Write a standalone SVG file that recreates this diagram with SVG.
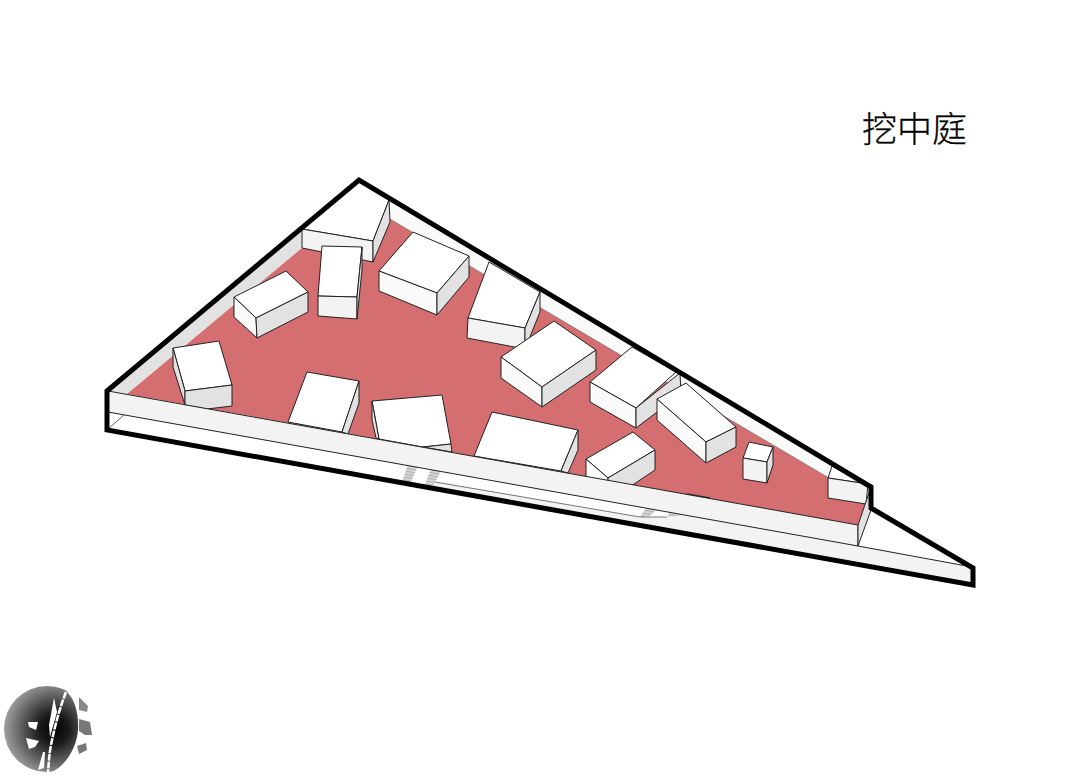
<svg xmlns="http://www.w3.org/2000/svg" width="1080" height="779" viewBox="0 0 1080 779">
<style>
.l{stroke:#222;stroke-width:1;stroke-linejoin:round}
.t{fill:#fff}.a{fill:#f3f3f3}.b{fill:#e2e2e2}.c{fill:#fafafa}
</style>
<defs>
<pattern id="h" width="4" height="3" patternUnits="userSpaceOnUse" patternTransform="rotate(10)"><rect width="4" height="3" fill="#ddd"/><rect width="4" height="1.3" fill="#b0b0b0"/></pattern>
<radialGradient id="g" gradientUnits="userSpaceOnUse" cx="54" cy="729" r="52"><stop offset="0" stop-color="#000"/><stop offset=".3" stop-color="#1c1c1c"/><stop offset="1" stop-color="#a8a8a8"/></radialGradient>
</defs>
<rect width="1080" height="779" fill="#fff"/>
<g id="base">
<polygon points="107,412 858,546 973,567 973,585 107,430" class="a"/>
<polygon points="107,412 683,515 667,517 640,517 440,482 425,487 107,430" fill="#fff"/>
<polygon points="408,464 418,466 410,484 402,482" fill="url(#h)"/>
<polygon points="431,469 441,471 433,486 425,484" fill="url(#h)"/>
<polygon points="646,508 656,510 650,516 640,517" fill="url(#h)"/>
<polygon points="670,512 684,515 667,517" fill="url(#h)"/>
<path d="M435,482L640,517L667,517" fill="none" stroke="#555" stroke-width=".8"/>
<path d="M107,430L125,414" fill="none" stroke="#333" stroke-width=".8"/>
<polygon points="107,391 302,229 302,248 127,394" class="b"/>
<polygon points="390,202 832,466 829,478 390,219" class="c"/>
<polygon points="127,394 302,248 373,262 390,219 829,478 828,498 867,504 858,525" fill="#d46e70"/>
<path d="M390,219L829,478" fill="none" stroke="#666" stroke-width=".6"/>
<path d="M687,494L710,498" stroke="#333" stroke-width="1.5"/>
</g>
<g id="courtyard-buildings" class="l">
<g id="b1"><polygon class="t" points="359,180 302,229 373,241 389,200"/><polygon class="a" points="302,229 373,241 373,262 302,248"/><polygon class="b" points="373,241 389,200 390,222 373,262"/></g>
<g id="b2"><polygon class="t" points="322,246 362,247 357,297 318,296"/><polygon class="a" points="318,296 357,297 357,319 318,316"/><polygon class="b" points="362,247 362,270 357,319 357,297"/></g>
<g id="b3"><polygon class="t" points="286,271 308,292 256,318 234,297"/><polygon class="c" points="234,297 256,318 257,338 234,317"/><polygon class="b" points="256,318 308,292 308,312 257,338"/></g>
<g id="b4"><polygon class="t" points="173,348 219,341 232,385 185,391"/><polygon class="b" points="173,348 185,391 185,405 173,367"/><polygon class="b" points="185,391 232,385 232,406 207,409 185,405"/></g>
<g id="b5"><polygon class="t" points="307,372 359,381 342,432 288,422"/><polygon class="b" points="359,381 359,403 348,434 342,432"/></g>
<g id="b6"><polygon class="t" points="372,401 442,395 451,444 423,447 379,439"/><polygon class="b" points="372,401 379,439 376,438 372,420"/><polygon class="b" points="423,447 451,444 452,452"/></g>
<g id="b7"><polygon class="t" points="492,412 578,430 561,471 474,456"/><polygon class="b" points="578,430 578,450 568,473 561,471"/></g>
<g id="b8"><polygon class="t" points="413,232 469,256 437,293 379,271"/><polygon class="c" points="379,271 437,293 437,315 379,291"/><polygon class="b" points="437,293 469,256 469,277 437,315"/></g>
<g id="b9"><polygon class="t" points="489,262 540,292 525,328 468,318"/><polygon class="a" points="468,318 525,328 525,349 467,338"/><polygon class="b" points="525,328 540,292 540,312 525,349"/></g>
<g id="b10"><polygon class="t" points="554,321 596,350 542,387 501,357"/><polygon class="c" points="501,357 542,387 542,407 501,378"/><polygon class="b" points="542,387 596,350 596,370 542,407"/></g>
<g id="b11"><polygon class="t" points="632,347 676,372 636,408 590,382"/><polygon class="c" points="590,382 636,408 636,428 590,402"/><polygon class="b" points="636,408 680,373 681,394 636,428"/></g>
<g id="b12"><polygon class="t" points="686,383 736,427 706,442 657,399"/><polygon class="c" points="657,399 706,442 706,463 657,420"/><polygon class="b" points="706,442 736,427 736,447 706,463"/></g>
<g id="b13"><polygon class="t" points="633,432 655,450 608,478 586,459"/><polygon class="c" points="586,459 608,478 608,490 586,485"/><polygon class="b" points="608,478 655,450 655,470 625,490 608,490"/></g>
<g id="b14"><polygon class="t" points="749,442 773,447 767,462 743,458"/><polygon class="a" points="743,458 767,462 767,483 743,479"/><polygon class="b" points="773,447 773,465 767,483 767,462"/></g>
<g id="b15"><polygon class="t" points="832,466 871,487 868,484 828,478"/><polygon class="a" points="828,478 868,484 866,504 828,498"/></g>
</g>
<g id="walls">
<polygon class="a l" points="108,391 858,525 858,546 108,412"/>
<polygon class="b l" points="858,525 870,490 871,510 858,546"/>
<path d="M858,546L972,567" fill="none" stroke="#222" stroke-width="1"/>
<polygon points="107,391 359,180 871,487 871,508 973,568 973,585 107,430" fill="none" stroke="#000" stroke-width="5" stroke-linejoin="miter"/>
</g>
<text x="862" y="142" font-family="'Noto Sans CJK SC',sans-serif" font-size="35" font-weight="300" fill="#000" stroke="#000" stroke-width=".3">挖中庭</text>
<g id="logo">
<circle cx="47" cy="729" r="43" fill="url(#g)"/>
<path fill="#fff" d="M68,693C75,700 79,715 78,730C77,745 68,765 50,773L95,778V684H64Z"/>
<polygon fill="#888" points="79,697 88,706 87,712 79,710"/>
<polygon fill="#777" points="79,719 90,722 92,735 85,735 79,731"/>
<polygon fill="#777" points="77,746 86,743 87,750 79,754"/>
<polygon fill="#fff" points="28,722 38,722 36,730 29,727"/>
<polygon fill="#fff" points="26,738 39,741 35,747 29,749"/>
<polygon fill="#fff" points="54,698 57,712 50,737 49,725"/>
<polygon fill="#fff" points="43,752 45,752 44,768 38,770"/>
<path fill="none" stroke="#fff" stroke-width="2.5" stroke-dasharray="7 1" d="M66,692C58,712 53,735 51,745C49,755 49,762 48,772"/>
</g>
</svg>
